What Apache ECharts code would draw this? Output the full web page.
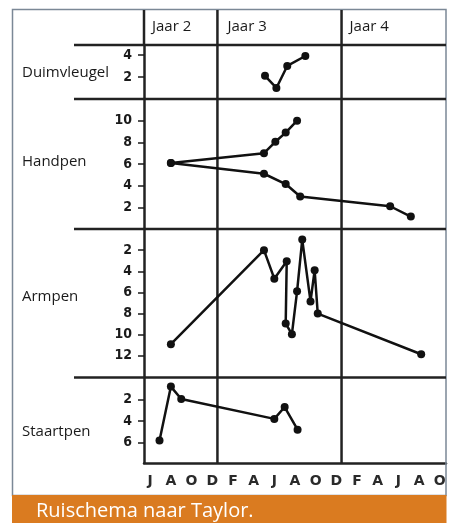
<!DOCTYPE html>
<html><head><meta charset="utf-8">
<script src="https://cdn.jsdelivr.net/npm/echarts@6/dist/echarts.min.js"></script>
<style>html,body{margin:0;padding:0;background:#fff}#c{width:449px;height:523px}</style>
</head><body><div id="c"></div>
<script>
// ---- data ----
const monthLabels = ['J','A','O','D','F','A','J','A','O','D','F','A','J','A','O'];
const monthLabelPositions = [0,2,4,6,8,10,12,14,16,18,20,22,24,26,28];
const yearLabels = ['Jaar 2','Jaar 3','Jaar 4'];
const yearBoundaries = [6.5, 18.5];
const panelNames = ['Duimvleugel','Handpen','Armpen','Staartpen'];

const duimMonths = [11.1, 12.2, 13.25, 15.0];
const duimValues = [2.1, 1.0, 3.0, 3.9];

const handUpperMonths = [2.0, 11.0, 12.1, 13.1, 14.2];
const handUpperValues = [6.1, 7.0, 8.05, 8.9, 10.0];
const handLowerMonths = [2.0, 11.0, 13.1, 14.5, 23.2, 25.2];
const handLowerValues = [6.1, 5.1, 4.15, 3.0, 2.1, 1.15];

const armMonths = [2.0, 11.0, 12.0, 13.2, 13.1, 13.7, 14.2, 14.7, 15.5, 15.9, 16.2, 26.2];
const armValues = [10.9, 2.0, 4.7, 3.05, 8.95, 9.95, 5.9, 1.0, 6.85, 3.9, 8.0, 11.85];

const staartMonths = [0.9, 2.0, 3.0, 12.0, 13.0, 14.25];
const staartValues = [5.8, 0.8, 1.95, 3.8, 2.7, 4.8];

const duimTicks = [2, 4];
const handTicks = [2, 4, 6, 8, 10];
const armTicks = [2, 4, 6, 8, 10, 12];
const staartTicks = [2, 4, 6];

const caption = 'Ruischema naar Taylor.';

// ---- layout ----
const X_MIN = -0.6, X_MAX = 28.6;
const grids = [
  {left: 144, right: 3, top: 45, height: 54},
  {left: 144, right: 3, top: 99, height: 130},
  {left: 144, right: 3, top: 229, height: 148},
  {left: 144, right: 3, top: 378, height: 85}
];
const yRanges = [
  {min: 0, max: 4.9, inverse: false, ticks: duimTicks},
  {min: 0, max: 12, inverse: false, ticks: handTicks},
  {min: 0, max: 14, inverse: true, ticks: armTicks},
  {min: 0, max: 7.9, inverse: true, ticks: staartTicks}
];
const labelY = [73, 162, 297, 432];
const INK = '#1a1a1a';
const tickFont = "'DejaVu Sans Condensed', 'DejaVu Sans', sans-serif";
const xFont = "'DejaVu Sans', sans-serif";
const textFont = "'Open Sans', 'Noto Sans', sans-serif";

function pairs(xs, ys) { return xs.map((x, i) => [x, ys[i]]); }

const xAxes = grids.map((g, i) => ({
  type: 'value', gridIndex: i, min: X_MIN, max: X_MAX,
  show: i === 3,
  axisLine: {show: true, onZero: false, lineStyle: {color: '#222', width: 2.5}},
  axisTick: {show: false},
  splitLine: {show: false},
  axisLabel: {
    customValues: monthLabelPositions,
    formatter: v => monthLabels[monthLabelPositions.indexOf(v)] || '',
    color: '#2a2a2a', fontSize: 14, fontWeight: 'bold', fontFamily: xFont, margin: 11
  }
}));

const yAxes = yRanges.map((r, i) => ({
  type: 'value', gridIndex: i, min: r.min, max: r.max, inverse: r.inverse,
  axisLine: {show: true, onZero: false, lineStyle: {color: '#222', width: 2.5}},
  axisTick: {show: true, customValues: r.ticks, length: 6, lineStyle: {color: INK, width: 1.5}},
  splitLine: {show: false},
  axisLabel: {
    customValues: r.ticks, color: INK, fontSize: 14, fontWeight: 'bold',
    fontFamily: tickFont, margin: 12
  }
}));

function lineSeries(idx, data) {
  return {
    type: 'line', xAxisIndex: idx, yAxisIndex: idx, data: data,
    symbol: 'circle', symbolSize: 8, showSymbol: true,
    itemStyle: {color: '#111'}, lineStyle: {color: '#111', width: 2.5},
    animation: false, z: 5
  };
}

const chart = echarts.init(document.getElementById('c'), null, {renderer: 'canvas'});
chart.setOption({
  animation: false,
  backgroundColor: '#fff',
  grid: grids.map(g => Object.assign({containLabel: false}, g)),
  xAxis: xAxes,
  yAxis: yAxes,
  series: [
    lineSeries(0, pairs(duimMonths, duimValues)),
    lineSeries(1, pairs(handUpperMonths, handUpperValues)),
    lineSeries(1, pairs(handLowerMonths, handLowerValues)),
    lineSeries(2, pairs(armMonths, armValues)),
    lineSeries(3, pairs(staartMonths, staartValues))
  ]
});

// decorations computed from axis scales
const leftX = chart.convertToPixel({xAxisIndex: 3}, X_MIN);
const rightX = chart.convertToPixel({xAxisIndex: 3}, X_MAX);
const boundX = yearBoundaries.map(v => chart.convertToPixel({xAxisIndex: 3}, v));
const TOP = 10, BOTTOM = 463;
const g = [];
// frame
g.push({type: 'rect', shape: {x: 12.5, y: 9.5, width: 433.5, height: 486}, style: {fill: null, stroke: '#7b8896', lineWidth: 1.5}, z: 1});
// banner
g.push({type: 'rect', shape: {x: 12, y: 495, width: 434.5, height: 28}, style: {fill: '#DA7B20'}, z: 1});
g.push({type: 'text', x: 36, y: 511, style: {text: caption, fill: '#fff', font: '20px ' + textFont, textVerticalAlign: 'middle'}, z: 2});
// separators
[45, 99, 229, 377.5].forEach(y => g.push({type: 'line', shape: {x1: 74, y1: y, x2: rightX, y2: y}, style: {stroke: '#222', lineWidth: 2.5}, z: 3}));
// header part of left axis
g.push({type: 'line', shape: {x1: leftX, y1: TOP, x2: leftX, y2: 45}, style: {stroke: '#222', lineWidth: 2.5}, z: 3});
// year boundaries
boundX.forEach(x => g.push({type: 'line', shape: {x1: x, y1: TOP, x2: x, y2: BOTTOM}, style: {stroke: '#222', lineWidth: 2.5}, z: 3}));
// year labels
const yearX = [leftX + 8, boundX[0] + 10, boundX[1] + 8];
yearLabels.forEach((t, i) => g.push({type: 'text', x: yearX[i], y: 27, style: {text: t, fill: INK, font: '15px ' + textFont, textVerticalAlign: 'middle'}, z: 4}));
// panel labels
panelNames.forEach((t, i) => g.push({type: 'text', x: 22, y: labelY[i], style: {text: t, fill: INK, font: '15px ' + textFont, textVerticalAlign: 'middle'}, z: 4}));
chart.setOption({graphic: g});
</script>
</body></html>
